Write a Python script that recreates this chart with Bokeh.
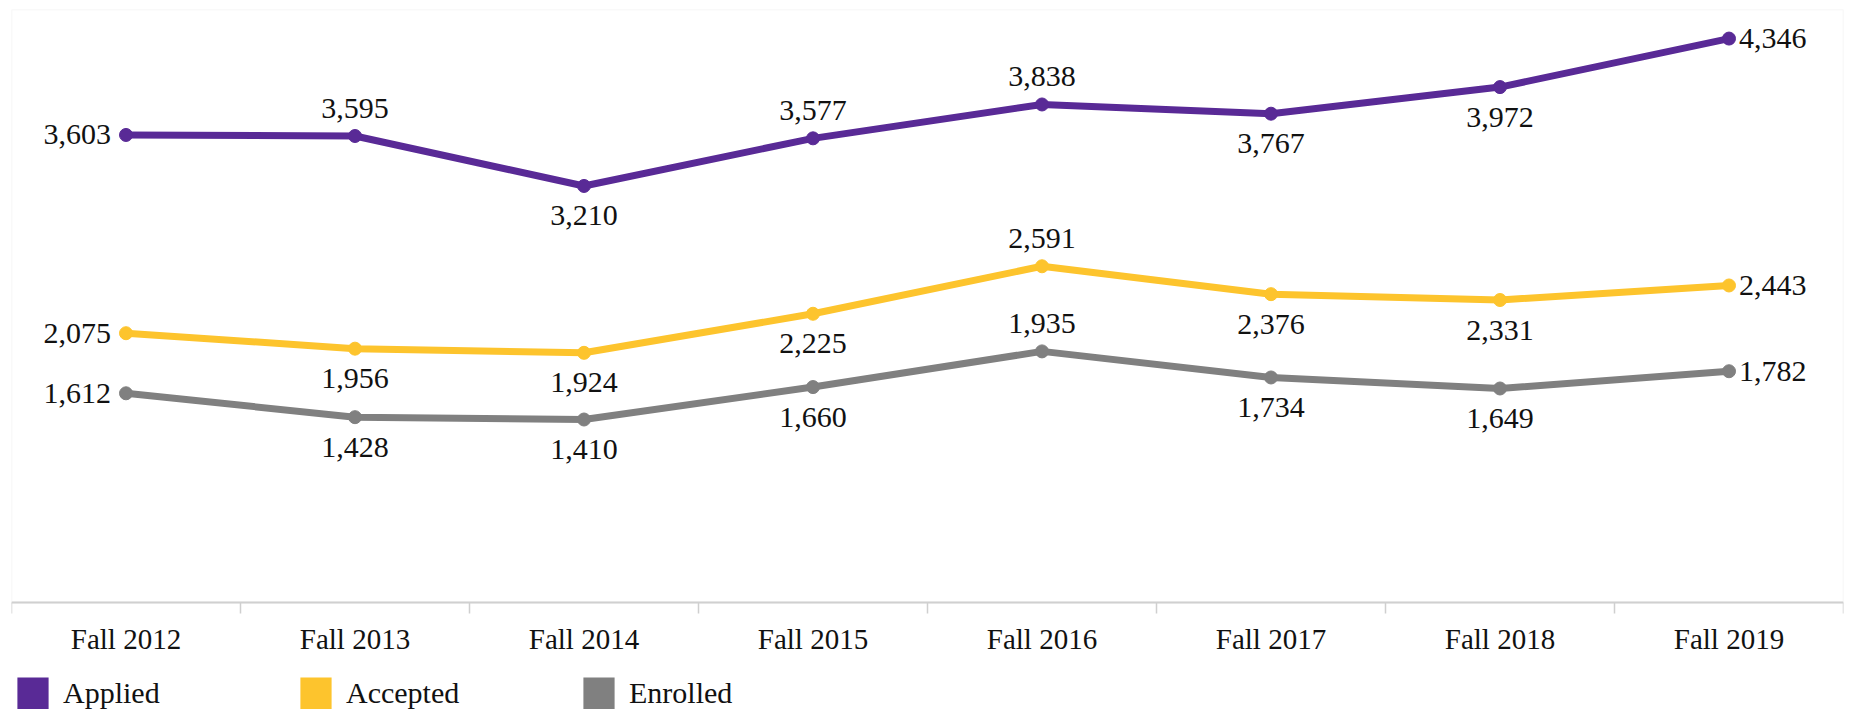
from bokeh.plotting import figure
from bokeh.models import (Range1d, FixedTicker, Legend, LegendItem, ColumnDataSource,
                          BoxAnnotation)
from bokeh.embed import file_html
from bokeh.resources import INLINE
from bokeh.core.properties import value

categories = ["Fall 2012", "Fall 2013", "Fall 2014", "Fall 2015",
              "Fall 2016", "Fall 2017", "Fall 2018", "Fall 2019"]
applied = [3603, 3595, 3210, 3577, 3838, 3767, 3972, 4346]
accepted = [2075, 1956, 1924, 2225, 2591, 2376, 2331, 2443]
enrolled = [1612, 1428, 1410, 1660, 1935, 1734, 1649, 1782]

# label placement per point (style, not data)
applied_pos = ["left", "above", "below", "above", "above", "below", "below", "right"]
accepted_pos = ["left", "below", "below", "below", "above", "below", "below", "right"]
enrolled_pos = ["left", "below", "below", "below", "above", "below", "below", "right"]

PURPLE = "#592a96"
GOLD = "#fdc42d"
GRAY = "#808080"
SERIF = "Liberation Serif"

xs = [i + 0.5 for i in range(len(categories))]

# frame spans down to the figure bottom; the value-axis zero sits 107px above it
Y_TOP = 4570
Y_BOTTOM = -825

p = figure(width=1849, height=709, output_backend="svg", toolbar_location=None,
           x_range=Range1d(0, len(categories)), y_range=Range1d(Y_BOTTOM, Y_TOP),
           y_axis_location=None, min_border_left=11, min_border_right=6,
           min_border_top=9, min_border_bottom=0)
p.frame_width = 1832
p.frame_height = 700
p.xgrid.visible = False
p.ygrid.visible = False
p.outline_line_color = None
p.background_fill_color = "white"
p.border_fill_color = "white"

# plot box (left, top, right borders) above the zero line
p.add_layout(BoxAnnotation(bottom=0, fill_alpha=0, line_color="#d4d4d4",
                           line_width=1.5))

ax = p.xaxis[0]
ax.fixed_location = 0
ax.ticker = FixedTicker(ticks=xs, minor_ticks=list(range(len(categories) + 1)))
ax.major_label_overrides = {x: c for x, c in zip(xs, categories)}
ax.major_tick_line_color = None
ax.major_tick_out = 0
ax.major_tick_in = 0
ax.minor_tick_line_color = "#cfcfcf"
ax.minor_tick_line_width = 1.5
ax.minor_tick_out = 11
ax.minor_tick_in = 0
ax.axis_line_color = "#cfcfcf"
ax.axis_line_width = 2
ax.major_label_text_font = SERIF
ax.major_label_text_font_size = "29px"
ax.major_label_text_color = "#111111"
ax.major_label_standoff = 10

offsets = {
    "left": ("right", -15, 0),
    "right": ("left", 10, 0),
    "above": ("center", 0, -28),
    "below": ("center", 0, 30),
}

series = [(applied, applied_pos, PURPLE), (accepted, accepted_pos, GOLD),
          (enrolled, enrolled_pos, GRAY)]
for vals, pos, col in series:
    src = ColumnDataSource(dict(
        x=xs, y=vals, label=[f"{v:,}" for v in vals],
        align=[offsets[q][0] for q in pos],
        xo=[offsets[q][1] for q in pos],
        yo=[offsets[q][2] for q in pos],
    ))
    p.line("x", "y", source=src, line_color=col, line_width=7)
    p.scatter("x", "y", source=src, size=13, fill_color=col, line_color=col)
    p.text("x", "y", text="label", source=src, x_offset="xo", y_offset="yo",
           text_align="align", text_baseline="middle",
           text_font=value(SERIF), text_font_size="30px", text_color="#111111")

# legend swatches (renderers with no drawable data, only used for the legend)
names = ["Applied", "Accepted", "Enrolled"]
cols = [PURPLE, GOLD, GRAY]
nan = float("nan")
items = []
for n, c in zip(names, cols):
    r = p.quad(left=[nan], right=[nan], top=[nan], bottom=[nan],
               fill_color=c, line_color=None)
    items.append(LegendItem(label=n, renderers=[r]))

legend = Legend(items=items, orientation="horizontal", location=(2, -4),
                glyph_width=39, glyph_height=40, label_width=233, label_standoff=11,
                spacing=0, padding=0, margin=0, border_line_color=None,
                background_fill_alpha=0, label_text_font=SERIF,
                label_text_font_size="30px", label_text_color="#111111",
                label_height=40)
p.add_layout(legend, "center")

open("out.html", "w").write(file_html(p, INLINE))
